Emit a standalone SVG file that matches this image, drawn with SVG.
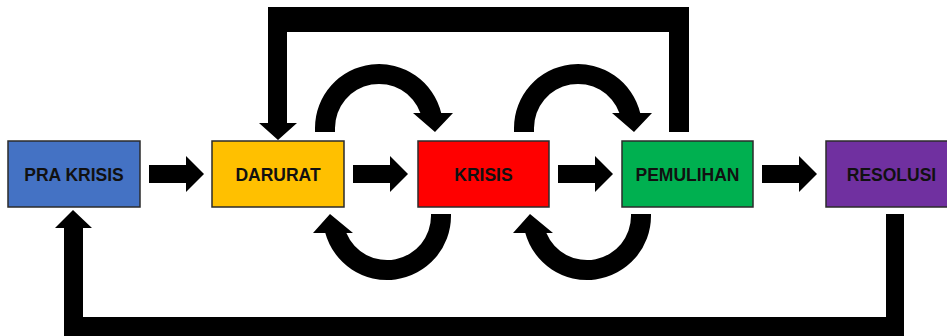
<svg xmlns="http://www.w3.org/2000/svg" width="947" height="336" viewBox="0 0 947 336">
<style>
.box{stroke:#2b2b2b;stroke-width:1.5}
.lbl{font-family:"Liberation Sans",Arial,sans-serif;font-weight:bold;font-size:17.5px;fill:#111;text-anchor:middle}
.arr{fill:#000}
</style>
<defs>
<path id="straight" d="M0,165 L37,165 L37,156 L55,174 L37,192 L37,183 L0,183 Z"/>
<path id="topcurve" d="M315,132 L315,128 A64,64 0 0 1 441.2,113 L453,113 L435,132 L413,113 L420.4,113 A44,44 0 0 0 335,128 L335,132 Z"/>
<path id="botcurve" d="M451,214 L451,216 A64,64 0 0 1 325.3,233 L313,233 L330,214 L353,233 L346.4,233 A44,44 0 0 0 431,216 L431,214 Z"/>
</defs>
<rect width="947" height="336" fill="#fff"/>
<g id="connectors" class="arr">
<use href="#straight" x="149"/>
<use href="#straight" x="353"/>
<use href="#straight" x="558"/>
<use href="#straight" x="762"/>
<use href="#topcurve"/>
<use href="#topcurve" x="199"/>
<use href="#botcurve"/>
<use href="#botcurve" x="200"/>
<path d="M689,132 L689,7 L268,7 L268,123 L259,123 L278,140 L297,123 L287,123 L287,32 L669,32 L669,132 Z"/>
<path d="M904,214 L904,340 L64,340 L64,228 L55,228 L73,210 L92,228 L83,228 L83,317 L886,317 L886,214 Z"/>
</g>
<g id="pra-krisis">
<rect class="box" x="8" y="141" width="132" height="66" fill="#4472C4"/>
<text class="lbl" x="74" y="180.5">PRA KRISIS</text>
</g>
<g id="darurat">
<rect class="box" x="212" y="141" width="132" height="66" fill="#FFC000"/>
<text class="lbl" x="278" y="180.5">DARURAT</text>
</g>
<g id="krisis">
<rect class="box" x="418" y="141" width="131" height="66" fill="#FF0000"/>
<text class="lbl" x="483.5" y="180.5">KRISIS</text>
</g>
<g id="pemulihan">
<rect class="box" x="622" y="141" width="131" height="66" fill="#00B050"/>
<text class="lbl" x="687.5" y="180.5">PEMULIHAN</text>
</g>
<g id="resolusi">
<rect class="box" x="826" y="141" width="131" height="66" fill="#7030A0"/>
<text class="lbl" x="891.5" y="180.5">RESOLUSI</text>
</g>
</svg>
